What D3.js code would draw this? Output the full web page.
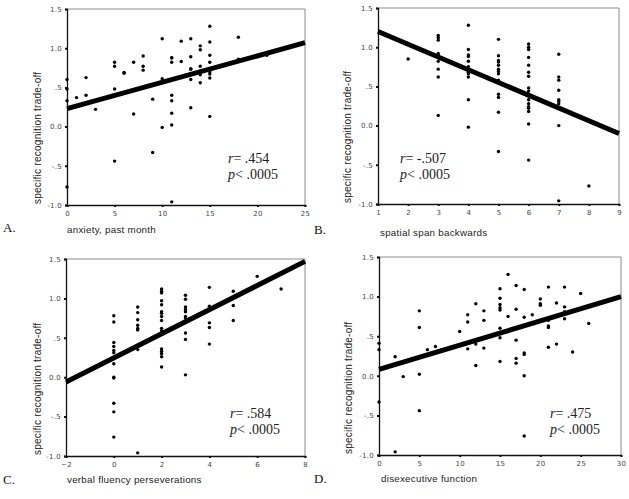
<!DOCTYPE html>
<html><head><meta charset="utf-8">
<script src="https://cdn.jsdelivr.net/npm/d3@7"></script>
<style>
body{margin:0;background:#fff;}
svg{display:block;}
</style></head>
<body>
<svg id="chart" width="629" height="499"></svg>
<script>
// ---------- data ----------
const yTicks = [-1.0, -0.5, 0.0, 0.5, 1.0, 1.5];
const yTickLabels = ["-1.0", "-.5", "0.0", ".5", "1.0", "1.5"];
const yTitle = "specific recognition trade-off";

// Panel A: anxiety, past month
const aTicks = [0, 5, 10, 15, 20, 25];
const aX = [0,0,0,0,1,2,2,3,5,5,5,5,6,6,7,7,8,8,8,9,9,10,10,10,11,11,11,11,11,11,11,11,12,12,13,13,13,13,13,13,14,14,14,14,14,15,15,15,15,15,15,15,15,18,18,21];
const aY = [0.6,0.48,0.33,-0.77,0.37,0.625,0.40,0.22,0.82,0.77,0.48,-0.44,0.69,0.68,0.82,0.16,0.90,0.77,0.72,0.35,-0.33,1.12,0.61,-0.01,0.88,0.875,0.82,0.40,0.33,0.17,0.02,-0.96,1.09,0.83,1.12,0.89,0.74,0.73,0.60,0.24,1.03,0.98,0.77,0.66,0.56,1.28,1.08,0.91,0.82,0.70,0.67,0.62,0.13,1.14,0.86,0.91];
const aLine = [[0, 0.23], [25, 1.07]];

// Panel B: spatial span backwards
const bTicks = [1, 2, 3, 4, 5, 6, 7, 8, 9];
const bX = [2,3,3,3,3,3,3,3,3,3,4,4,4,4,4,4,4,4,4,4,4,4,5,5,5,5,5,5,5,5,5,5,5,5,5,6,6,6,6,6,6,6,6,6,6,6,6,6,6,6,6,6,7,7,7,7,7,7,7,7,7,8];
const bY = [0.85,1.15,1.12,1.09,0.92,0.90,0.82,0.72,0.62,0.13,1.28,0.97,0.90,0.88,0.82,0.75,0.72,0.68,0.66,0.62,0.33,-0.02,1.10,0.89,0.83,0.81,0.77,0.72,0.69,0.66,0.58,0.40,0.36,0.17,-0.33,1.04,1.00,0.97,0.87,0.77,0.68,0.63,0.48,0.44,0.40,0.33,0.28,0.24,0.22,0.18,0.02,-0.44,0.91,0.62,0.58,0.45,0.33,0.31,0.28,0.0,-0.96,-0.77];
const bLine = [[1, 1.20], [9, -0.10]];

// Panel C: verbal fluency perseverations
const cTicks = [-2, 0, 2, 4, 6, 8];
const cX = [0,0,0,0,0,0,0,0,0,0,0,0,0,1,1,1,1,1,1,1,1,1,2,2,2,2,2,2,2,2,2,2,2,2,2,2,2,2,3,3,3,3,3,3,3,3,3,3,4,4,4,4,4,5,5,5,6,7];
const cY = [0.78,0.70,0.44,0.39,0.34,0.31,0.24,0.17,0.0,-0.01,-0.33,-0.44,-0.76,0.89,0.82,0.73,0.66,0.62,0.60,0.39,0.35,-0.96,1.12,1.09,1.07,0.97,0.92,0.83,0.81,0.77,0.72,0.62,0.59,0.36,0.33,0.30,0.26,0.13,1.04,0.99,0.89,0.86,0.83,0.77,0.75,0.56,0.48,0.03,1.14,0.90,0.69,0.63,0.42,1.09,0.91,0.72,1.28,1.12];
const cLine = [[-2, -0.06], [8, 1.47]];

// Panel D: disexecutive function
const dTicks = [0, 5, 10, 15, 20, 25, 30];
const dX = [0,0,0,2,2,3,5,5,5,5,6,7,10,11,11,11,12,12,12,13,13,13,15,15,15,15,15,15,15,15,16,16,17,17,17,17,17,18,18,18,18,18,18,19,20,20,20,21,21,21,21,21,22,22,23,23,23,23,24,25,26];
const dY = [0.41,0.33,-0.33,0.24,-0.96,-0.01,0.82,0.61,0.02,-0.44,0.33,0.37,0.56,0.77,0.68,0.34,0.91,0.40,0.13,0.82,0.70,0.35,1.10,0.98,0.90,0.86,0.83,0.60,0.48,0.18,1.28,0.75,1.14,0.84,0.45,0.22,0.16,1.09,0.74,0.29,0.27,0.0,-0.76,0.77,0.97,0.91,0.89,1.12,0.70,0.63,0.61,0.36,0.92,0.40,1.12,0.87,0.81,0.72,0.30,1.04,0.66];
const dLine = [[0, 0.08], [30, 1.00]];

const panels = [
  {label:"A.", title:"anxiety, past month", xs:aX, ys:aY, ticks:aTicks, line:aLine, r:"r= .454",
   box:{l:67, r:305, t:9, b:205}, labelPos:[3,232], yTitleX:41, xTitlePos:[67,233], rPos:[228,163]},
  {label:"B.", title:"spatial  span backwards", xs:bX, ys:bY, ticks:bTicks, line:bLine, r:"r= -.507",
   box:{l:378, r:619, t:8, b:204}, labelPos:[314,234], yTitleX:351, xTitlePos:[380,236], rPos:[400,163]},
  {label:"C.", title:"verbal fluency perseverations", xs:cX, ys:cY, ticks:cTicks, line:cLine, r:"r= .584",
   box:{l:66, r:305, t:259, b:456}, labelPos:[3,484], yTitleX:41, xTitlePos:[67,483], rPos:[230,418]},
  {label:"D.", title:"disexecutive function", xs:dX, ys:dY, ticks:dTicks, line:dLine, r:"r= .475",
   box:{l:379, r:621, t:257, b:455}, labelPos:[314,483], yTitleX:352, xTitlePos:[381,482], rPos:[550,418]}
];

const svg = d3.select("#chart");

panels.forEach(p => {
  const g = svg.append("g");
  const bx = p.box;
  const x = d3.scaleLinear().domain([p.ticks[0], p.ticks[p.ticks.length-1]]).range([bx.l, bx.r]);
  const y = d3.scaleLinear().domain([-1.0, 1.5]).range([bx.b, bx.t]);

  // frame top/right (light)
  g.append("path")
    .attr("d", `M${bx.l},${bx.t}H${bx.r}V${bx.b}`)
    .attr("fill","none").attr("stroke","#8a8a8a").attr("stroke-width",1);

  // y axis
  const yAxis = d3.axisLeft(y).tickValues(yTicks)
    .tickFormat((d,i) => yTickLabels[i]).tickSize(2).tickPadding(3);
  const ya = g.append("g").attr("transform",`translate(${bx.l},0)`).call(yAxis);
  ya.select(".domain").attr("stroke","#111").attr("stroke-width",1.3);
  ya.selectAll(".tick line").attr("stroke","#111").attr("stroke-width",2);
  ya.selectAll("text").attr("font-family","DejaVu Sans").attr("font-size",7).attr("fill","#444").attr("letter-spacing",0.3);

  // x axis
  const xAxis = d3.axisBottom(x).tickValues(p.ticks).tickSize(2).tickPadding(4);
  const xa = g.append("g").attr("transform",`translate(0,${bx.b})`).call(xAxis);
  xa.select(".domain").attr("stroke","#111").attr("stroke-width",1.3);
  xa.selectAll(".tick line").attr("stroke","#111").attr("stroke-width",2);
  xa.selectAll("text").attr("font-family","DejaVu Sans").attr("font-size",7).attr("fill","#444").attr("letter-spacing",0.3);

  // points
  const pts = p.xs.map((v,i) => [v, p.ys[i]]);
  g.append("g").selectAll("circle").data(pts).join("circle")
    .attr("cx", d => x(d[0])).attr("cy", d => y(d[1])).attr("r", 1.7)
    .attr("fill","#000");

  // regression line
  g.append("line")
    .attr("x1", x(p.line[0][0])).attr("y1", y(p.line[0][1]))
    .attr("x2", x(p.line[1][0])).attr("y2", y(p.line[1][1]))
    .attr("stroke","#000").attr("stroke-width",5);

  // y title
  g.append("text")
    .attr("transform",`translate(${p.yTitleX},${bx.b - 1}) rotate(-90)`)
    .attr("font-family","Liberation Sans, Arial, sans-serif").attr("font-size",10)
    .attr("fill","#222").attr("letter-spacing",0.25)
    .text(yTitle);

  // x title
  g.append("text").attr("x",p.xTitlePos[0]).attr("y",p.xTitlePos[1])
    .attr("font-family","Liberation Sans, Arial, sans-serif").attr("font-size",9.8)
    .attr("fill","#222").attr("letter-spacing",0.25)
    .text(p.title);

  // panel label
  g.append("text").attr("x",p.labelPos[0]).attr("y",p.labelPos[1])
    .attr("font-family","Liberation Serif, Times New Roman, serif").attr("font-size",13)
    .attr("fill","#111").text(p.label);

  // stats
  const t1 = g.append("text").attr("x",p.rPos[0]).attr("y",p.rPos[1])
    .attr("font-family","Liberation Serif, Times New Roman, serif").attr("font-size",14).attr("fill","#222");
  t1.append("tspan").attr("font-style","italic").text("r");
  t1.append("tspan").text(p.r.slice(1));
  const t2 = g.append("text").attr("x",p.rPos[0]).attr("y",p.rPos[1]+16)
    .attr("font-family","Liberation Serif, Times New Roman, serif").attr("font-size",14).attr("fill","#222");
  t2.append("tspan").attr("font-style","italic").text("p");
  t2.append("tspan").text("< .0005");
});
</script>
</body></html>
